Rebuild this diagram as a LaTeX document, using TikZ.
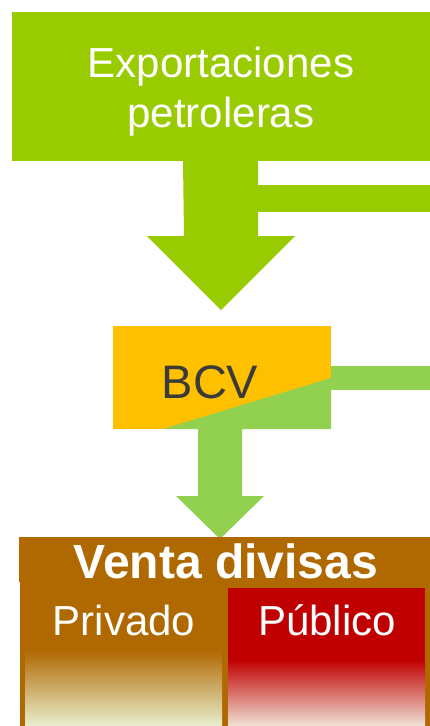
\documentclass[tikz,border=0pt]{standalone}
\usepackage{fontspec}
\setmainfont{Liberation Sans}
\usetikzlibrary{positioning}
\definecolor{exgreen}{HTML}{99CC00}
\definecolor{bcvgreen}{HTML}{92D050}
\definecolor{bcvorange}{HTML}{FFC000}
\definecolor{ventabrown}{HTML}{B06800}
\definecolor{pubred}{HTML}{C00000}
\definecolor{palegreen}{HTML}{E8EFCF}
\definecolor{palered}{HTML}{EFE2D6}
\definecolor{bcvtext}{HTML}{3A3A3A}
\begin{document}
\begin{tikzpicture}[x=1pt,y=-1pt,
  box/.style={anchor=north west,inner sep=0pt,outer sep=0pt},
  label/.style={text=white,inner sep=0pt}]
\useasboundingbox (0,0) rectangle (430,726);
%exportaciones
\node[box,fill=exgreen,minimum width=418pt,minimum height=149pt] (export) at (12,12) {};
\node[label,align=center,font=\fontsize{42}{50}\selectfont,anchor=base] (exporttext) at (221,127) {Exportaciones\\petroleras};
\fill[exgreen](183,160.5)--++(75,0)--++(0,75.5)--++(37,0)--++(-74,74)--++(-74,-74)--++(37,0)--cycle;
\fill[exgreen](258,185)rectangle(430,212);
%bcv
\node[box,fill=bcvorange,minimum width=218pt,minimum height=103pt] (bcv) at (113,326) {};
\fill[bcvgreen](163,429)--(331,378)--(331,429)--cycle;
\node[inner sep=0pt,anchor=base,text=bcvtext,font=\fontsize{47}{56}\selectfont] (bcvtext) at (210,398) {BCV};
\fill[bcvgreen](331,366)rectangle(430,390);
\fill[bcvgreen](198,428.5)--++(44,0)--++(0,67.5)--++(22,0)--++(-44,43)--++(-44,-43)--++(22,0)--cycle;
%venta divisas
\fill[ventabrown](20,582)rectangle(430,726);
\node[box,fill=ventabrown,minimum width=411pt,minimum height=45pt] (venta) at (19,537) {};
\node[label,anchor=base,font=\fontsize{48}{57}\bfseries\selectfont] (ventatext) at (226,578) {Venta divisas};
\shade[top color=ventabrown,bottom color=palegreen](25,650)rectangle(222,726);
\fill[pubred](228,588)rectangle(425,660);
\shade[top color=pubred,bottom color=palered](228,660)rectangle(425,726);
\node[label,anchor=base,font=\fontsize{42}{50}\selectfont] (privado) at (124,635) {Privado};
\node[label,anchor=base,font=\fontsize{42}{50}\selectfont] (publico) at (327,635) {Público};
\end{tikzpicture}
\end{document}
